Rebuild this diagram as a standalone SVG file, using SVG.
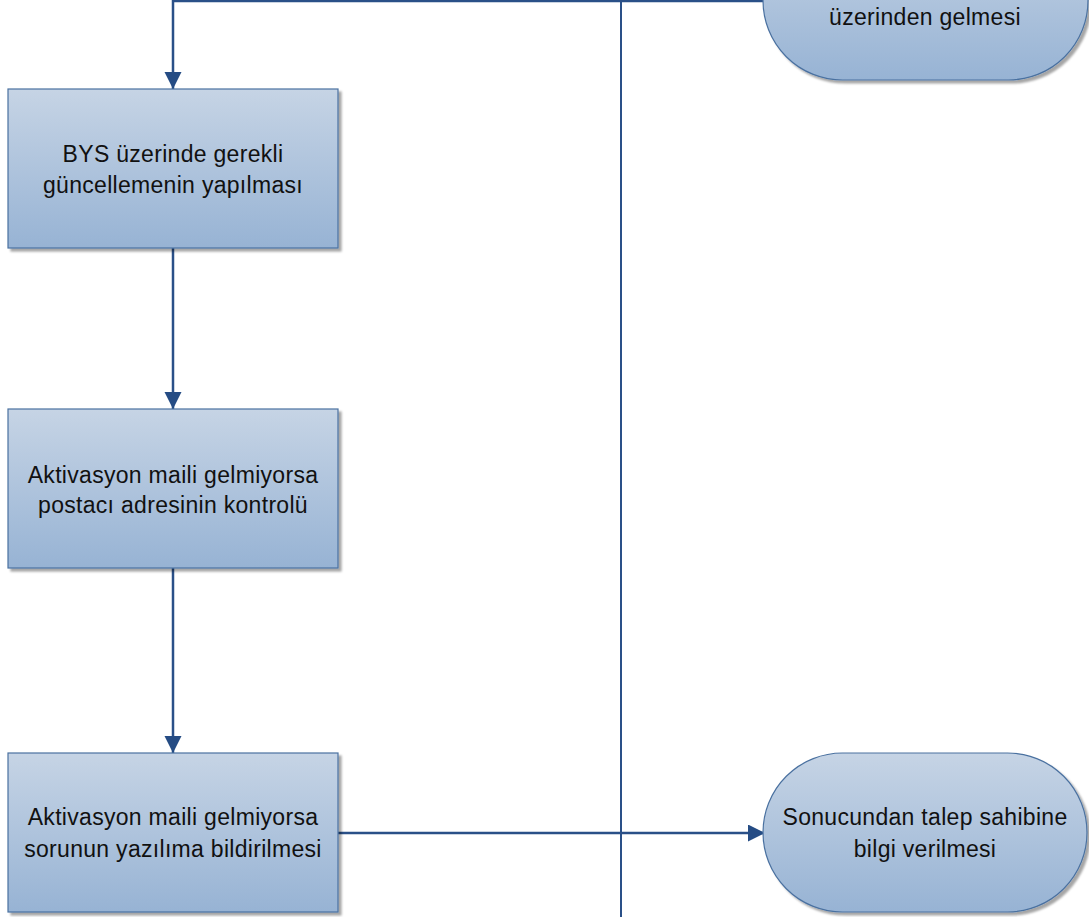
<svg xmlns="http://www.w3.org/2000/svg" width="1089" height="917" viewBox="0 0 1089 917">
<defs>
<linearGradient id="g" x1="0" y1="0" x2="0" y2="1">
<stop offset="0" stop-color="#c6d4e5"/>
<stop offset="1" stop-color="#97b3d4"/>
</linearGradient>
<marker id="arr" markerUnits="userSpaceOnUse" markerWidth="18" markerHeight="18" refX="17" refY="8.5" orient="auto">
<path d="M0,0 L17,8.5 L0,17 Z" fill="#254c84"/>
</marker>
<filter id="sh" x="-5%" y="-5%" width="115%" height="115%">
<feOffset dx="3" dy="3" in="SourceAlpha" result="o"/>
<feGaussianBlur in="o" stdDeviation="1" result="b"/>
<feFlood flood-color="#000" flood-opacity="0.35"/>
<feComposite in2="b" operator="in" result="s"/>
<feMerge><feMergeNode in="s"/><feMergeNode in="SourceGraphic"/></feMerge>
</filter>
</defs>
<style>
.n{fill:url(#g);stroke:#4a71a0;stroke-width:1.2;filter:url(#sh)}
.t{font-family:"Liberation Sans",Arial,sans-serif;font-size:23px;letter-spacing:0.3px;fill:#111;text-anchor:middle}
.c{fill:none;stroke:#2a5088;stroke-width:2.5}
</style>
<rect width="1089" height="917" fill="#fff"/>
<g id="lane">
<line x1="621" y1="0" x2="621" y2="917" stroke="#2a5088" stroke-width="2"/>
</g>
<g id="connectors">
<path class="c" d="M763,1 L173,1 L173,89" marker-end="url(#arr)"/>
<path class="c" d="M173,248 L173,409" marker-end="url(#arr)"/>
<path class="c" d="M173,568 L173,753" marker-end="url(#arr)"/>
<path class="c" d="M338,833 L765,833" marker-end="url(#arr)"/>
</g>
<g id="start">
<rect class="n" x="763" y="-79" width="325" height="159" rx="79.5" ry="79.5"/>
<text class="t" x="925" y="25">üzerinden gelmesi</text>
</g>
<g id="box1">
<rect class="n" x="8" y="89" width="330" height="159"/>
<text class="t" x="173" y="162">BYS üzerinde gerekli</text>
<text class="t" x="173" y="193">güncellemenin yapılması</text>
</g>
<g id="box2">
<rect class="n" x="8" y="409" width="330" height="159"/>
<text class="t" x="173" y="483">Aktivasyon maili gelmiyorsa</text>
<text class="t" x="173" y="513">postacı adresinin kontrolü</text>
</g>
<g id="box3">
<rect class="n" x="8" y="753" width="330" height="159"/>
<text class="t" x="173" y="825">Aktivasyon maili gelmiyorsa</text>
<text class="t" x="173" y="857">sorunun yazılıma bildirilmesi</text>
</g>
<g id="end">
<rect class="n" x="763" y="753" width="324" height="159" rx="79.5" ry="79.5"/>
<text class="t" x="925" y="825">Sonucundan talep sahibine</text>
<text class="t" x="925" y="857">bilgi verilmesi</text>
</g>
</svg>
